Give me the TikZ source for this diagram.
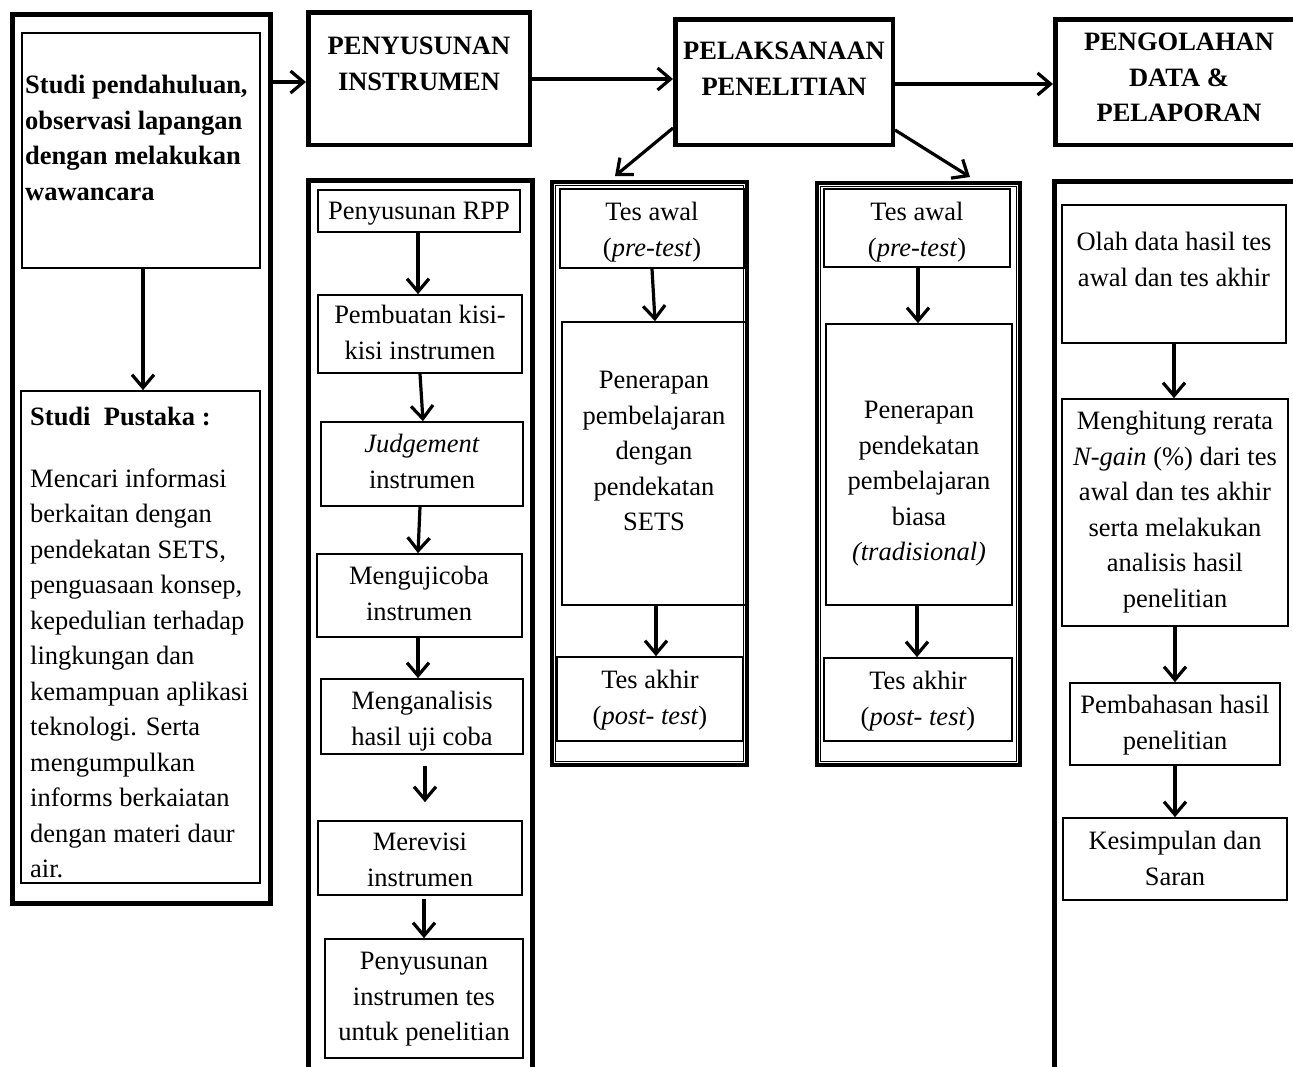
\documentclass[tikz,border=0pt]{standalone}
\usepackage{fontspec}
\setmainfont{Liberation Serif}
\usetikzlibrary{arrows.meta}
\newcommand\fs{\fontsize{26.5}{35.5}\selectfont}
\newcommand\mkbox[6]{\node[#1, minimum width={#5-#3}, minimum height={#6-#4}] (#2) at ({(#3+#5)/2},{(#4+#6)/2}) {};}
\begin{document}
\begin{tikzpicture}[x=1pt,y=-1pt,
  hbox/.style={draw, line width=4.5pt, inner sep=0},
  ibox/.style={draw, line width=1.7pt, inner sep=0},
  scont/.style={draw, line width=4.8pt, inner sep=0},
  cont/.style={draw, line width=4.3pt, inner sep=0,
    path picture={\draw[line width=1.2pt] ([shift={(3.6pt,-3.6pt)}]path picture bounding box.north west) rectangle ([shift={(-3.6pt,3.6pt)}]path picture bounding box.south east);}},
  txt/.style={inner sep=0, align=center, anchor=north, font=\fs},
  btxt/.style={inner sep=0, align=center, anchor=north, font=\fs\bfseries},
  ltxt/.style={inner sep=0, align=left, anchor=north west, font=\fs},
  arr/.style={line width=3.2pt, -{Straight Barb[length=13pt,width=22pt]}}]
\useasboundingbox (0,0) rectangle (1293,1066);
\clip (0,0) rectangle (1293,1066);
\fill[white] (0,0) rectangle (1293,1066);

% containers
\mkbox{scont}{c1}{12.4}{14.4}{270.6}{903.6}
\mkbox{scont}{c2}{308.4}{180.4}{532.6}{1200}
\mkbox{cont}{c3}{552.15}{182.15}{746.85}{764.85}
\mkbox{cont}{c4}{817.15}{183.15}{1019.85}{764.85}
\mkbox{scont}{c5}{1054.4}{181.4}{1400}{1200}

% header boxes
\mkbox{hbox}{h1}{308.25}{12.25}{529.75}{144.75}
\mkbox{hbox}{h2}{675.25}{19.25}{892.75}{144.75}
\mkbox{hbox}{h3}{1055.25}{19.25}{1400}{144.75}
\node[btxt] (th1) at (419,37) {PENYUSUNAN\\INSTRUMEN};
\node[btxt] (th2) at (784,42) {PELAKSANAAN\\PENELITIAN};
\node[btxt] (th3) at (1179,33) {PENGOLAHAN\\DATA \&\\PELAPORAN};

% left column
\mkbox{ibox}{l1}{22}{33}{260}{268}
\mkbox{ibox}{l2}{21}{391}{260}{883}
\node[ltxt, font=\fs\bfseries] (tl1) at (25,75) {Studi pendahuluan,\\observasi lapangan\\dengan melakukan\\wawancara};
\node[ltxt] (tl2) at (30,407) {\textbf{Studi\ \ Pustaka :}\\[26pt]Mencari informasi\\berkaitan dengan\\pendekatan SETS,\\penguasaan konsep,\\kepedulian terhadap\\lingkungan dan\\kemampuan aplikasi\\teknologi. Serta\\mengumpulkan\\informs berkaiatan\\dengan materi daur\\air.};

% column 2
\mkbox{ibox}{b21}{318}{190}{520}{232}
\mkbox{ibox}{b22}{318}{295}{522}{373}
\mkbox{ibox}{b23}{321}{422}{523}{506}
\mkbox{ibox}{b24}{317}{554}{522}{637}
\mkbox{ibox}{b25}{321}{679}{523}{754}
\mkbox{ibox}{b26}{318}{821}{522}{895}
\mkbox{ibox}{b27}{325}{939}{523}{1058}
\node[txt] (t21) at (419,202) {Penyusunan RPP};
\node[txt] (t22) at (420,305) {Pembuatan kisi-\\kisi instrumen};
\node[txt] (t23) at (422,434) {\textit{Judgement}\\instrumen};
\node[txt] (t24) at (419,566) {Mengujicoba\\instrumen};
\node[txt] (t25) at (422,691) {Menganalisis\\hasil uji coba};
\node[txt] (t26) at (420,833) {Merevisi\\instrumen};
\node[txt] (t27) at (424,952) {Penyusunan\\instrumen tes\\untuk penelitian};

% column 3
\mkbox{ibox}{b31}{560}{189}{744}{268}
\mkbox{ibox}{b32}{562}{322}{746}{605}
\mkbox{ibox}{b33}{557}{657}{743}{741}
\node[txt] (t31) at (652,202) {Tes awal\\(\textit{pre-test})};
\node[txt] (t32) at (654,371) {Penerapan\\pembelajaran\\dengan\\pendekatan\\SETS};
\node[txt] (t33) at (650,670) {Tes akhir\\(\textit{post- test})};

% column 4
\mkbox{ibox}{b41}{824}{189}{1010}{267}
\mkbox{ibox}{b42}{826}{324}{1012}{605}
\mkbox{ibox}{b43}{824}{658}{1012}{741}
\node[txt] (t41) at (917,202) {Tes awal\\(\textit{pre-test})};
\node[txt] (t42) at (919,401) {Penerapan\\pendekatan\\pembelajaran\\biasa\\\textit{(tradisional)}};
\node[txt] (t43) at (918,671) {Tes akhir\\(\textit{post- test})};

% column 5
\mkbox{ibox}{b51}{1062}{205}{1286}{343}
\mkbox{ibox}{b52}{1062}{399}{1288}{626}
\mkbox{ibox}{b53}{1070}{683}{1280}{765}
\mkbox{ibox}{b54}{1063}{818}{1287}{900}
\node[txt] (t51) at (1174,232) {Olah data hasil tes\\awal dan tes akhir};
\node[txt] (t52) at (1175,411) {Menghitung rerata\\\textit{N-gain} (\%) dari tes\\awal dan tes akhir\\serta melakukan\\analisis hasil\\penelitian};
\node[txt] (t53) at (1175,695) {Pembahasan hasil\\penelitian};
\node[txt] (t54) at (1175,831) {Kesimpulan dan\\Saran};

% top arrows
\draw[arr] (c1.east |- 0,82) -- (h1.west |- 0,82);
\draw[arr] (h1.east |- 0,79) -- (h2.west |- 0,79);
\draw[arr] (h2.east |- 0,84) -- (h3.west |- 0,84);
\draw[arr] (h2.west |- 0,128) -- ([yshift=4pt]c3.north -| 615,0);
\draw[arr] (h2.east |- 0,130) -- ([yshift=4pt]c4.north -| 970,0);

% left arrow
\draw[arr] (l1.south -| 143,0) -- (l2.north -| 143,0);

% column 2 arrows
\draw[arr] (b21.south -| 418,0) -- (b22.north -| 418,0);
\draw[arr] (b22.south -| 420,0) -- (b23.north -| 423,0);
\draw[arr] (b23.south -| 420,0) -- (b24.north -| 418,0);
\draw[arr] (b24.south -| 418,0) -- (b25.north -| 418,0);
\draw[arr] ([yshift=-11pt]b25.south -| 425,0) -- ([yshift=18pt]b26.north -| 425,0);
\draw[arr] ([yshift=-3pt]b26.south -| 424,0) -- (b27.north -| 424,0);

% column 3 arrows
\draw[arr] (b31.south -| 652,0) -- (b32.north -| 655,0);
\draw[arr] (b32.south -| 656,0) -- (b33.north -| 656,0);

% column 4 arrows
\draw[arr] (b41.south -| 918,0) -- (b42.north -| 918,0);
\draw[arr] (b42.south -| 917,0) -- (b43.north -| 917,0);

% column 5 arrows
\draw[arr] (b51.south -| 1174,0) -- (b52.north -| 1174,0);
\draw[arr] (b52.south -| 1175,0) -- (b53.north -| 1175,0);
\draw[arr] (b53.south -| 1175,0) -- (b54.north -| 1175,0);
\end{tikzpicture}
\end{document}
